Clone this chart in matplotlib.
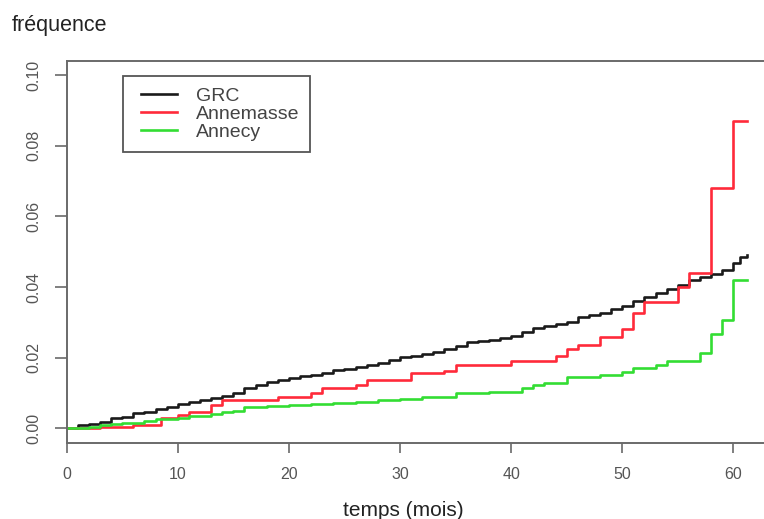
import matplotlib
matplotlib.use("Agg")
import matplotlib.pyplot as plt
from matplotlib.patches import Rectangle

# Cumulative frequency by follow-up time (months), step curves
grc_t = [0, 1, 2, 3, 4, 5, 6, 7, 8, 9, 10, 11, 12, 13, 14, 15, 16, 17, 18, 19,
         20, 21, 22, 23, 24, 25, 26, 27, 28, 29, 30, 31, 32, 33, 34, 35, 36, 37,
         38, 39, 40, 41, 42, 43, 44, 45, 46, 47, 48, 49, 50, 51, 52, 53, 54, 55,
         56, 57, 58, 59, 60, 60.6, 61.2]
grc_v = [0.0, 0.0009, 0.0013, 0.0019, 0.0028, 0.0032, 0.0042, 0.0046, 0.0054,
         0.0061, 0.0069, 0.0075, 0.0080, 0.0085, 0.0092, 0.0099, 0.0113, 0.0123,
         0.0132, 0.0137, 0.0142, 0.0148, 0.0152, 0.0158, 0.0165, 0.0169, 0.0174,
         0.0179, 0.0186, 0.0193, 0.0201, 0.0205, 0.0210, 0.0217, 0.0224, 0.0233,
         0.0245, 0.0248, 0.0251, 0.0255, 0.0262, 0.0272, 0.0284, 0.0290, 0.0295,
         0.0300, 0.0316, 0.0320, 0.0326, 0.0337, 0.0346, 0.0361, 0.0371, 0.0382,
         0.0394, 0.0406, 0.0420, 0.0429, 0.0437, 0.0448, 0.0467, 0.0486, 0.0491]

annemasse_t = [0, 3, 6, 8.5, 10, 11, 13, 14, 19, 22, 23, 26, 27, 31, 34, 35, 40,
               44, 45, 46, 48, 50, 51, 52, 55, 56, 58, 60, 61.2]
annemasse_v = [0.0, 0.0005, 0.0009, 0.0028, 0.0038, 0.0047, 0.0065, 0.0080,
               0.0090, 0.0099, 0.0115, 0.0123, 0.0137, 0.0156, 0.0163, 0.0179,
               0.0190, 0.0205, 0.0224, 0.0236, 0.0258, 0.0280, 0.0326, 0.0357,
               0.0401, 0.0441, 0.0680, 0.0869, 0.0869]

annecy_t = [0, 2, 3, 4, 5, 7, 8, 10, 11, 13, 14, 15, 16, 18, 20, 22, 24, 26, 28,
            30, 32, 33, 35, 38, 41, 42, 43, 45, 48, 50, 51, 53, 54, 57, 58, 59,
            60, 61.2]
annecy_v = [0.0, 0.0004, 0.0008, 0.0011, 0.0014, 0.0020, 0.0025, 0.0030, 0.0035,
            0.0040, 0.0045, 0.0049, 0.0060, 0.0063, 0.0066, 0.0068, 0.0071,
            0.0075, 0.0079, 0.0084, 0.0088, 0.0090, 0.0099, 0.0102, 0.0113,
            0.0123, 0.0129, 0.0146, 0.0151, 0.0160, 0.0170, 0.0179, 0.0191,
            0.0212, 0.0266, 0.0307, 0.0420, 0.0420]

series_names = ["GRC", "Annemasse", "Annecy"]
series_colors = ["#1a1a1a", "#ff2a3a", "#33dd33"]

x_ticks = [0, 10, 20, 30, 40, 50, 60]
y_ticks = [0.00, 0.02, 0.04, 0.06, 0.08, 0.10]
y_ticklabels = ["0.00", "0.02", "0.04", "0.06", "0.08", "0.10"]

plt.rcParams["font.family"] = ["Liberation Sans", "DejaVu Sans"]

W, H = 764, 519
fig = plt.figure(figsize=(W / 100, H / 100), dpi=100)

left_px, right_px, top_px, bottom_px = 66.7, 770.0, 60.7, 442.7
ax = fig.add_axes([left_px / W, 1 - bottom_px / H,
                   (right_px - left_px) / W, (bottom_px - top_px) / H])

px_per_month = 11.11
ax.set_xlim(0, (right_px - left_px) / px_per_month)
ax.set_ylim(-0.00408, 0.1041)

for t, v, name, col in zip([grc_t, annemasse_t, annecy_t],
                           [grc_v, annemasse_v, annecy_v],
                           series_names, series_colors):
    ax.step(t, v, where="post", color=col, lw=1.9, label=name)

spine_col = "#6a6a6a"
for side in ["left", "bottom", "top", "right"]:
    ax.spines[side].set_color(spine_col)
    ax.spines[side].set_linewidth(1.4)

ax.set_xticks(x_ticks)
ax.set_xticklabels([str(v) for v in x_ticks])
ax.set_yticks(y_ticks)
ax.set_yticklabels(y_ticklabels, rotation=90, va="center")
ax.tick_params(axis="x", length=7.5, width=1.2, color=spine_col,
               labelcolor="#555555", labelsize=11.5, pad=10)
ax.tick_params(axis="y", length=9, width=1.2, color=spine_col,
               labelcolor="#555555", labelsize=11.5, pad=9)

# legend box drawn as its own patch, entries laid on top without a frame
ax.add_patch(Rectangle((122.7 / W, 1 - 151.7 / H),
                       (310 - 122.7) / W, (151.7 - 75.7) / H,
                       transform=fig.transFigure, clip_on=False,
                       facecolor="white", edgecolor="#555555",
                       linewidth=1.3, zorder=4))
leg = ax.legend(loc="upper left",
                bbox_to_anchor=(141 / W, 1 - 87.5 / H),
                bbox_transform=fig.transFigure,
                borderaxespad=0, fontsize=14, handlelength=1.85,
                handletextpad=0.98, labelspacing=0.02, borderpad=0.0,
                frameon=False)
leg.set_zorder(5)
for txt in leg.get_texts():
    txt.set_color("#444444")

fig.text(403 / W, 1 - 510 / H, "temps (mois)", ha="center", va="center",
         fontsize=15, color="#222222")
fig.text(12 / W, 1 - 26 / H, "fréquence", ha="left", va="center",
         fontsize=15.5, color="#222222")

fig.savefig("out.png", dpi=100, facecolor="white")
